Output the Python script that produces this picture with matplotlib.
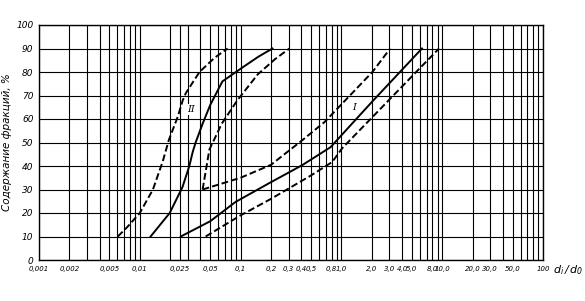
import matplotlib
matplotlib.use('Agg')
import matplotlib.pyplot as plt
from matplotlib import font_manager

# grain-size curves, x = d_i/d_0, y = content of fraction (%)
IIa_x = [0.00605, 0.0075, 0.01, 0.0135, 0.0169, 0.0194, 0.0238, 0.0267, 0.0286, 0.0391, 0.055, 0.0743]
IIa_y = [10, 14, 20, 30, 42, 51, 61, 68, 71, 80, 86, 90]
IIs_x = [0.0128, 0.0198, 0.0265, 0.031, 0.0335, 0.0358, 0.042, 0.05, 0.066, 0.105, 0.15, 0.207]
IIs_y = [10, 20, 31, 40, 46, 50, 58, 66, 76, 82, 86.5, 90]
IIb_x = [0.042, 0.046, 0.049, 0.053, 0.065, 0.093, 0.148, 0.22, 0.305]
IIb_y = [30, 40, 47, 50, 58, 68, 79, 85.5, 90]
Ia_x = [0.042, 0.1, 0.2, 0.41, 0.68, 2.03, 3.05]
Ia_y = [30, 35, 40.5, 51, 58.7, 80, 90]
Is_x = [0.0255, 0.05, 0.089, 0.194, 0.41, 0.78, 2.03, 6.3]
Is_y = [10, 16.5, 24.7, 32.8, 40.4, 48, 67.5, 90]
Ib_x = [0.045, 0.1, 0.2, 0.5, 0.81, 1.02, 5.4, 9.3]
Ib_y = [10, 19, 26, 36, 41.7, 47.6, 79.6, 90]

xtick_vals = [0.001, 0.002, 0.005, 0.01, 0.025, 0.05, 0.1, 0.2, 0.3, 0.4, 0.5, 0.8, 1.0,
              2.0, 3.0, 4.0, 5.0, 8.0, 10.0, 20.0, 30.0, 50.0, 100.0]
xtick_labels = ['0,001', '0,002', '0,005', '0,01', '0,025', '0,05', '0,1', '0,2', '0,3', '0,4', '0,5',
                '0,8', '1,0', '2,0', '3,0', '4,0', '5,0', '8,0', '10,0', '20,0', '30,0', '50,0', '100']
ytick_vals = list(range(0, 101, 10))

names = {f.name for f in font_manager.fontManager.ttflist}
narrow = [n for n in ['Liberation Sans Narrow', 'DejaVu Sans Condensed'] if n in names]
plt.rcParams['font.family'] = narrow + ['DejaVu Sans']
plt.rcParams['font.style'] = 'italic'
fig = plt.figure(figsize=(5.85, 3.01), dpi=100)
ax = fig.add_axes([39/585, 1-260/301, (543-39)/585, (260-25)/301])
ax.set_xscale('log')
ax.set_xlim(0.001, 100); ax.set_ylim(0, 100)

# vertical grid: 1..9 in every decade, plus 0.025
vlines = [m*10.0**e for e in range(-3, 2) for m in range(1, 10)] + [100.0, 0.025]
for v in vlines:
    ax.axvline(v, color='k', lw=0.8, zorder=1)
for h in ytick_vals:
    ax.axhline(h, color='k', lw=0.8, zorder=1)

kw = dict(color='k', lw=1.4, zorder=3)
dash = dict(dashes=(3.5, 1.6))
ax.plot(IIa_x, IIa_y, **kw, **dash)
ax.plot(IIs_x, IIs_y, **kw)
ax.plot(IIb_x, IIb_y, **kw, **dash)
ax.plot(Ia_x, Ia_y, **kw, **dash)
ax.plot(Is_x, Is_y, **kw)
ax.plot(Ib_x, Ib_y, **kw, **dash)

ax.text(0.032, 64, 'II', fontsize=7, family='DejaVu Serif', ha='center', va='center',
        bbox=dict(fc='white', ec='none', pad=0.5), zorder=4)
ax.text(1.34, 65, 'I', fontsize=7, family='DejaVu Serif', ha='center', va='center',
        bbox=dict(fc='white', ec='none', pad=0.5), zorder=4)

fs = 6.0 if narrow else 5.0
ax.set_xticks(xtick_vals); ax.set_xticklabels(xtick_labels)
ax.xaxis.set_minor_locator(matplotlib.ticker.NullLocator())
ax.set_yticks(ytick_vals)
ax.tick_params(axis='x', length=0, labelsize=fs, pad=4)
ax.tick_params(axis='y', length=0, labelsize=6.5, pad=4)
ax.text(1.02, -0.045, r'$d_i\,/\,d_0$', transform=ax.transAxes, fontsize=8, ha='left', va='center')
ax.set_ylabel('Содержание фракций, %', fontsize=7.5, labelpad=3)
for s in ax.spines.values():
    s.set_linewidth(1.0)

plt.savefig('out.png', dpi=100)
